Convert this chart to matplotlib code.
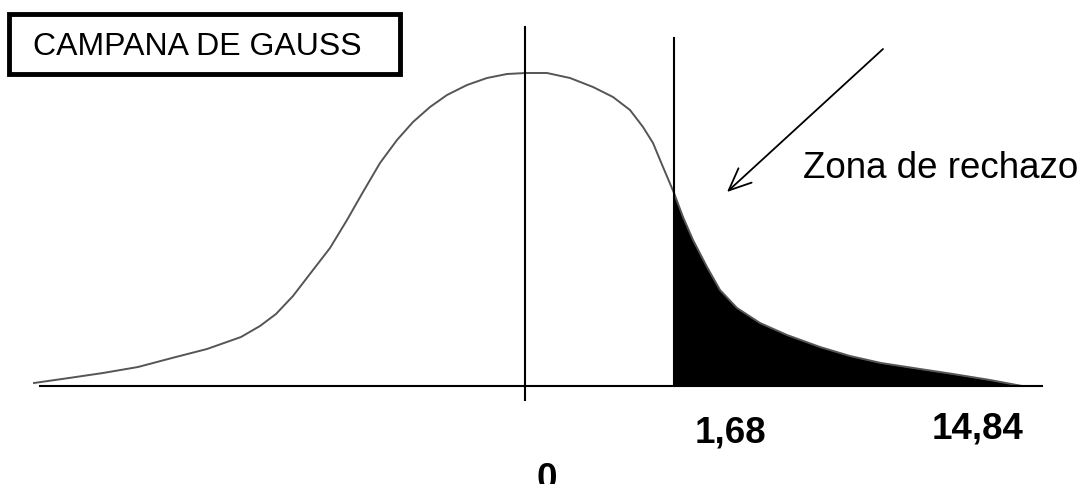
import matplotlib.pyplot as plt
from matplotlib.patches import Rectangle
import numpy as np

# sketch coordinates: x in pixels from the left, h = height above the base line
curve_x = [34, 69, 103, 138, 172, 207, 241, 260, 276, 293, 313, 330, 347, 363,
           380, 397, 413, 430, 447, 467, 487, 507, 526, 547, 570, 593, 613,
           630, 643, 653, 663, 674, 683, 693, 707, 720, 737, 760, 787, 820,
           850, 881, 920, 953, 990, 1022]
curve_h = [3, 8, 13, 19, 28, 37, 49, 60, 72, 90, 116, 138, 166, 194,
           223, 246, 264, 279, 291, 301, 308, 312, 313, 313, 308, 299, 289,
           276, 259, 243, 219, 193, 169, 146, 119, 96, 78, 63, 51, 39,
           30, 23, 17, 12, 6, 0]

mean_x = 525
critical_x = 674
label_text = ['0', '1,68', '14,84']
label_x = [537, 695, 932]
label_h = [-103, -57, -53]

plt.rcParams['font.family'] = ['Liberation Sans', 'DejaVu Sans']

fig = plt.figure(figsize=(10.85, 4.84), dpi=100)
ax = fig.add_axes([0, 0, 1, 1])
ax.set_xlim(0, 1085)
ax.set_ylim(386 - 484, 386)
ax.axis('off')

x = np.array(curve_x)
h = np.array(curve_h)

# rejection zone
tail = x >= critical_x
ax.fill_between(x[tail], 0, h[tail], color='black', linewidth=0)

# bell curve
ax.plot(x, h, color='#555555', linewidth=1.4, solid_joinstyle='round')

# base line and verticals
ax.plot([40, 1042], [0, 0], color='black', linewidth=1.5)
ax.plot([mean_x, mean_x], [-14, 359], color='black', linewidth=1.5)
ax.plot([critical_x, critical_x], [0, 348], color='black', linewidth=1.5)

# title box
ax.add_patch(Rectangle((9, 386 - 74), 391, 60, fill=False,
                       edgecolor='black', linewidth=3.5))
ax.text(33, 386 - 55, 'CAMPANA DE GAUSS', fontsize=23, va='baseline')

# arrow + annotation
ax.annotate('', xy=(727, 386 - 192), xytext=(883, 386 - 49),
            arrowprops=dict(arrowstyle='->,head_length=0.8,head_width=0.35',
                            color='black', linewidth=1.3, mutation_scale=20,
                            shrinkA=0, shrinkB=0))
ax.text(803, 386 - 178, 'Zona de rechazo', fontsize=26.5, va='baseline')

for txt, lx, lh in zip(label_text, label_x, label_h):
    ax.text(lx, lh, txt, fontsize=26.5, fontweight='bold', va='baseline')

fig.savefig('out.png', dpi=100)
